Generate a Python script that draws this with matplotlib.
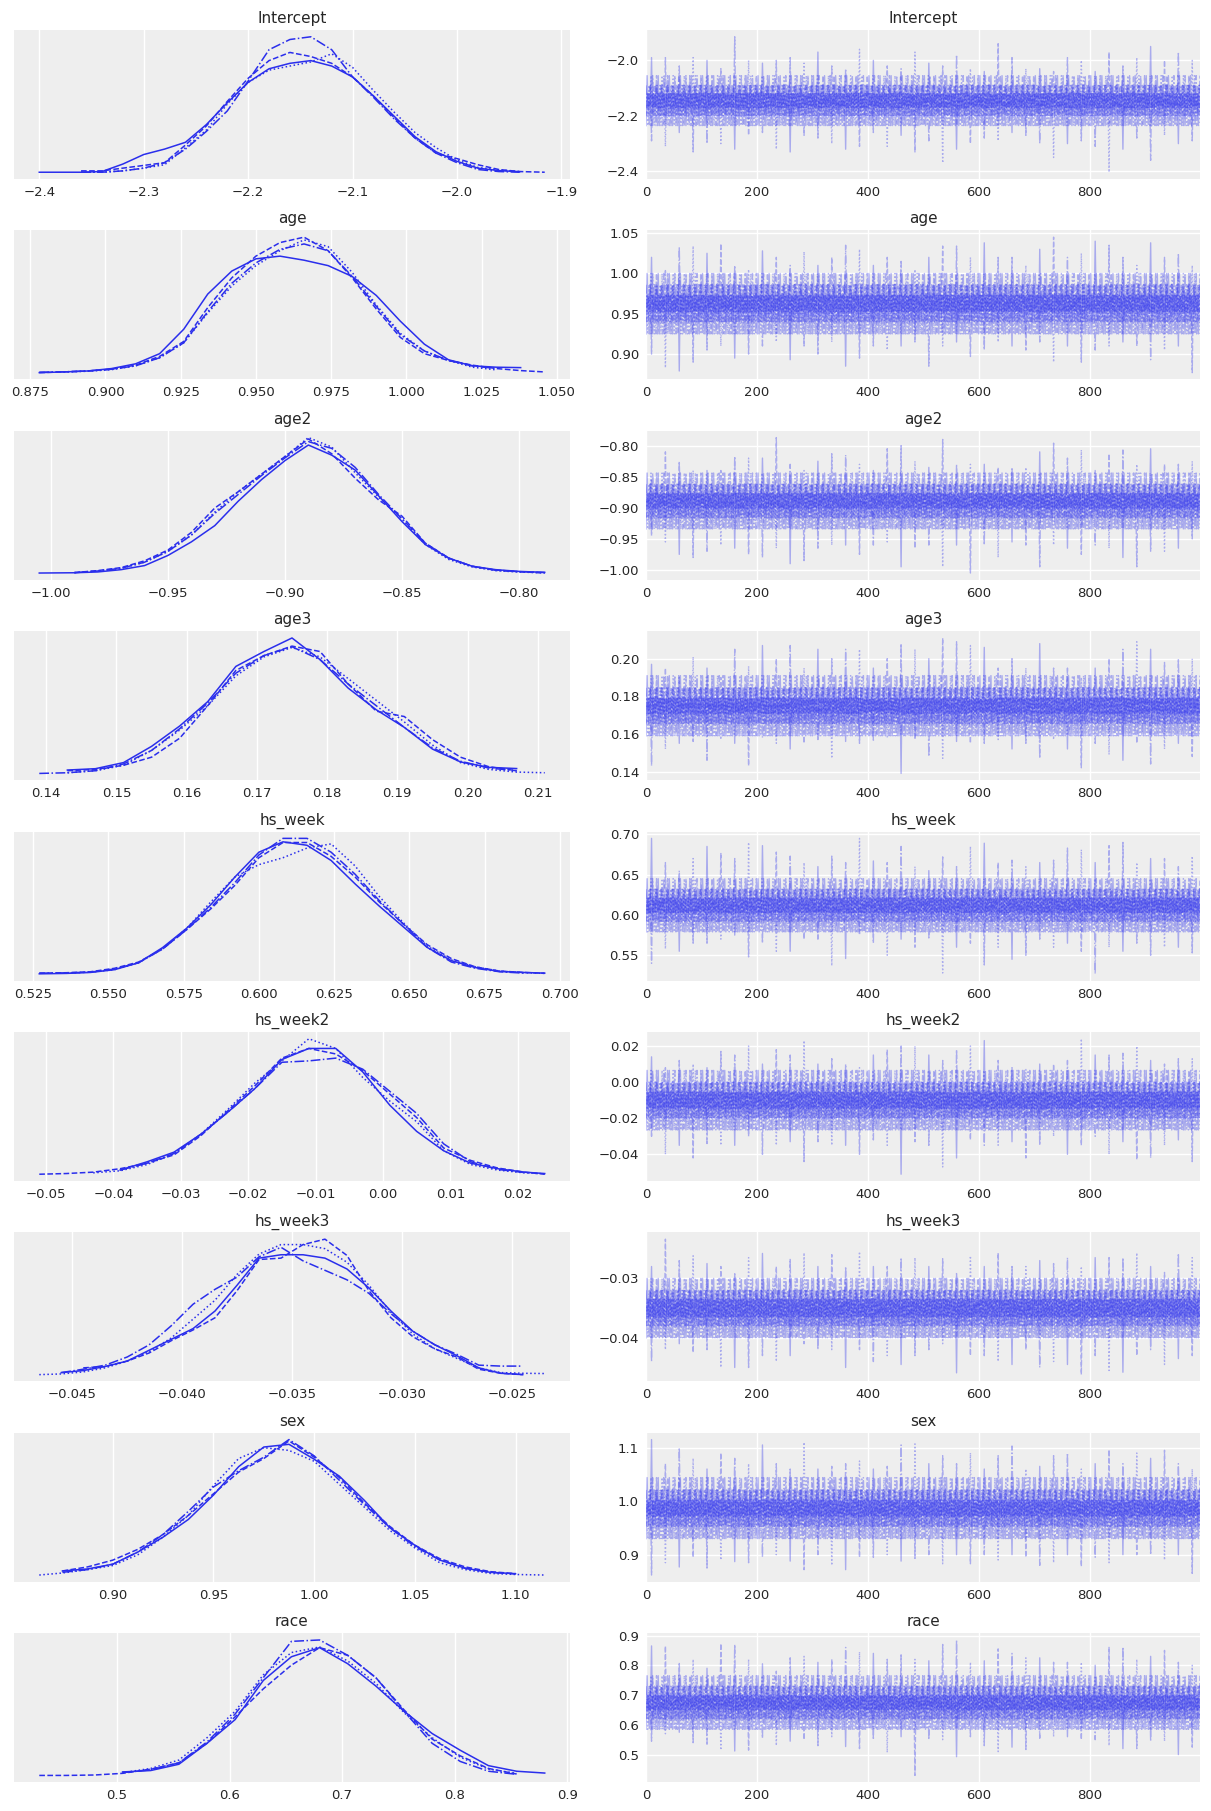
import numpy as np
import matplotlib
matplotlib.use("Agg")
import matplotlib.pyplot as plt
from matplotlib.ticker import MultipleLocator

nan = np.nan

# ---------------------------------------------------------------------------
# Variables, chain line styles
# ---------------------------------------------------------------------------
var_names = ["Intercept", "age", "age2", "age3", "hs_week", "hs_week2",
             "hs_week3", "sex", "race"]
chain_styles = ["-", "--", "-.", ":"]
n_draws = 1000
bin_width = 25

# ---------------------------------------------------------------------------
# KDE curves (relative height, one list per chain)
# ---------------------------------------------------------------------------
intercept_kde_x = [-2.40, -2.38, -2.36, -2.34, -2.32, -2.30, -2.28, -2.26, -2.24, -2.22,
                   -2.20, -2.18, -2.16, -2.14, -2.12, -2.10, -2.08, -2.06, -2.04, -2.02,
                   -2.00, -1.98, -1.96, -1.94, -1.916]
intercept_kde = [
    [0.0, 0.0, 0.0, 0.005, 0.06, 0.13, 0.17, 0.22, 0.35, 0.51, 0.66, 0.76, 0.80, 0.82, 0.78,
     0.70, 0.56, 0.41, 0.26, 0.15, 0.08, 0.03, 0.012, 0.004, nan],
    [nan, nan, 0.01, 0.01, 0.03, 0.05, 0.07, 0.20, 0.34, 0.52, 0.69, 0.82, 0.88, 0.85, 0.80,
     0.70, 0.56, 0.40, 0.25, 0.14, 0.10, 0.055, 0.02, 0.005, 0.0],
    [nan, nan, 0.0, 0.0, 0.01, 0.03, 0.07, 0.17, 0.30, 0.45, 0.67, 0.90, 0.975, 0.995, 0.90,
     0.70, 0.55, 0.39, 0.25, 0.14, 0.07, 0.02, 0.005, 0.0, nan],
    [nan, nan, 0.0, 0.0, 0.01, 0.03, 0.055, 0.18, 0.31, 0.50, 0.66, 0.75, 0.78, 0.81, 0.87,
     0.77, 0.60, 0.44, 0.29, 0.18, 0.09, 0.035, 0.017, 0.004, nan],
]

age_kde_x = [0.878, 0.886, 0.894, 0.902, 0.910, 0.918, 0.926, 0.934, 0.942, 0.950, 0.958,
             0.966, 0.974, 0.982, 0.990, 0.998, 1.006, 1.014, 1.022, 1.030, 1.038, 1.046]
age_kde = [
    [0.0, 0.005, 0.012, 0.03, 0.065, 0.14, 0.32, 0.58, 0.75, 0.84, 0.86, 0.83, 0.79, 0.71,
     0.57, 0.38, 0.21, 0.095, 0.05, 0.04, 0.037, nan],
    [0.0, 0.005, 0.012, 0.025, 0.055, 0.12, 0.23, 0.48, 0.70, 0.86, 0.96, 1.0, 0.90, 0.70,
     0.47, 0.26, 0.14, 0.09, 0.055, 0.03, 0.015, 0.005],
    [0.003, 0.006, 0.012, 0.025, 0.05, 0.11, 0.22, 0.45, 0.66, 0.81, 0.91, 0.95, 0.90, 0.71,
     0.49, 0.28, 0.16, 0.09, 0.05, 0.03, nan, nan],
    [nan, 0.005, 0.01, 0.022, 0.05, 0.11, 0.22, 0.44, 0.64, 0.79, 0.90, 0.98, 0.93, 0.74,
     0.50, 0.29, 0.16, 0.09, 0.04, 0.02, nan, nan],
]

age2_kde_x = [-1.005, -0.99, -0.98, -0.97, -0.96, -0.95, -0.94, -0.93, -0.92, -0.91, -0.90,
              -0.89, -0.88, -0.87, -0.86, -0.85, -0.84, -0.83, -0.82, -0.81, -0.80, -0.789]
age2_kde = [
    [0.0, 0.002, 0.008, 0.025, 0.055, 0.13, 0.23, 0.35, 0.53, 0.69, 0.83, 0.945, 0.87, 0.76,
     0.57, 0.38, 0.21, 0.11, 0.05, 0.025, 0.012, 0.005],
    [nan, 0.003, 0.018, 0.04, 0.09, 0.17, 0.30, 0.48, 0.60, 0.73, 0.86, 0.99, 0.88, 0.70,
     0.54, 0.42, 0.22, 0.11, 0.05, 0.022, 0.01, 0.0],
    [nan, 0.003, 0.015, 0.035, 0.08, 0.16, 0.28, 0.44, 0.58, 0.72, 0.85, 0.97, 0.92, 0.78,
     0.58, 0.40, 0.22, 0.11, 0.05, 0.02, 0.01, 0.004],
    [nan, 0.003, 0.014, 0.035, 0.08, 0.16, 0.28, 0.45, 0.60, 0.73, 0.86, 1.0, 0.93, 0.74,
     0.56, 0.40, 0.21, 0.10, 0.045, 0.018, 0.007, 0.002],
]

age3_kde_x = [0.139, 0.143, 0.147, 0.151, 0.155, 0.159, 0.163, 0.167, 0.171, 0.175, 0.179,
              0.183, 0.187, 0.191, 0.195, 0.199, 0.203, 0.207, 0.211]
age3_kde = [
    [nan, 0.025, 0.035, 0.08, 0.20, 0.35, 0.53, 0.79, 0.90, 1.0, 0.84, 0.63, 0.47, 0.34, 0.18,
     0.085, 0.045, 0.036, nan],
    [nan, 0.02, 0.03, 0.06, 0.12, 0.26, 0.50, 0.76, 0.87, 0.94, 0.90, 0.66, 0.46, 0.42, 0.25,
     0.12, 0.05, 0.02, nan],
    [0.0, 0.005, 0.02, 0.07, 0.17, 0.33, 0.52, 0.74, 0.87, 0.935, 0.84, 0.66, 0.50, 0.34, 0.19,
     0.09, 0.04, 0.02, nan],
    [nan, 0.005, 0.02, 0.06, 0.17, 0.32, 0.50, 0.72, 0.86, 0.93, 0.86, 0.70, 0.54, 0.38, 0.21,
     0.08, 0.03, 0.01, 0.005],
]

hs_week_kde_x = [0.527, 0.536, 0.544, 0.552, 0.560, 0.568, 0.576, 0.584, 0.592, 0.600, 0.608,
                 0.616, 0.624, 0.632, 0.640, 0.648, 0.656, 0.664, 0.672, 0.680, 0.688, 0.695]
hs_week_kde = [
    [0.0, 0.003, 0.01, 0.03, 0.08, 0.19, 0.33, 0.50, 0.70, 0.88, 0.955, 0.93, 0.82, 0.65,
     0.49, 0.34, 0.19, 0.095, 0.045, 0.017, 0.01, 0.005],
    [0.005, 0.008, 0.015, 0.04, 0.085, 0.18, 0.32, 0.47, 0.64, 0.84, 0.95, 0.95, 0.85, 0.70,
     0.52, 0.36, 0.21, 0.11, 0.05, 0.02, 0.01, 0.004],
    [0.005, 0.007, 0.012, 0.035, 0.08, 0.18, 0.32, 0.48, 0.66, 0.86, 0.98, 0.98, 0.88, 0.72,
     0.53, 0.36, 0.19, 0.085, 0.04, 0.015, 0.005, nan],
    [nan, 0.005, 0.012, 0.03, 0.08, 0.18, 0.33, 0.52, 0.70, 0.79, 0.84, 0.91, 0.94, 0.78,
     0.56, 0.37, 0.20, 0.10, 0.05, 0.02, 0.008, 0.003],
]

hs_week2_kde_x = [-0.051, -0.047, -0.043, -0.039, -0.035, -0.031, -0.027, -0.023, -0.019,
                  -0.015, -0.011, -0.007, -0.003, 0.001, 0.005, 0.009, 0.013, 0.017, 0.021, 0.024]
hs_week2_kde = [
    [nan, nan, nan, 0.03, 0.09, 0.16, 0.29, 0.45, 0.62, 0.83, 0.91, 0.91, 0.74, 0.50, 0.31,
     0.17, 0.08, 0.04, 0.015, 0.005],
    [0.0, 0.005, 0.015, 0.04, 0.08, 0.14, 0.28, 0.46, 0.64, 0.84, 0.91, 0.87, 0.75, 0.58,
     0.41, 0.19, 0.10, 0.045, 0.015, 0.0],
    [nan, nan, nan, 0.03, 0.08, 0.15, 0.29, 0.45, 0.62, 0.81, 0.82, 0.84, 0.76, 0.60, 0.44,
     0.22, 0.09, 0.035, 0.012, nan],
    [nan, nan, 0.01, 0.025, 0.07, 0.15, 0.29, 0.47, 0.66, 0.82, 0.98, 0.91, 0.70, 0.53, 0.38,
     0.17, 0.07, 0.03, 0.01, 0.003],
]

hs_week3_kde_x = [-0.0465, -0.0455, -0.0445, -0.0435, -0.0425, -0.0415, -0.0405, -0.0395,
                  -0.0385, -0.0375, -0.0365, -0.0355, -0.0345, -0.0335, -0.0325, -0.0315,
                  -0.0305, -0.0295, -0.0285, -0.0275, -0.0265, -0.0255, -0.0245, -0.0235]
hs_week3_kde = [
    [nan, 0.015, 0.03, 0.06, 0.10, 0.18, 0.26, 0.34, 0.47, 0.66, 0.86, 0.885, 0.885, 0.86,
     0.78, 0.64, 0.47, 0.32, 0.22, 0.14, 0.05, 0.01, 0.0, nan],
    [nan, nan, 0.05, 0.06, 0.10, 0.16, 0.25, 0.33, 0.42, 0.62, 0.85, 0.86, 0.96, 1.0,
     0.88, 0.62, 0.42, 0.28, 0.19, 0.13, 0.04, 0.01, 0.0, nan],
    [nan, 0.015, 0.04, 0.07, 0.13, 0.22, 0.36, 0.52, 0.63, 0.72, 0.87, 0.94, 0.84, 0.77,
     0.70, 0.60, 0.45, 0.32, 0.22, 0.15, 0.07, 0.063, 0.063, nan],
    [0.0, 0.005, 0.02, 0.05, 0.10, 0.17, 0.27, 0.41, 0.55, 0.74, 0.89, 0.96, 0.96, 0.93,
     0.83, 0.66, 0.46, 0.30, 0.19, 0.12, 0.05, 0.015, 0.01, 0.008],
]

sex_kde_x = [0.8635, 0.875, 0.8875, 0.90, 0.9125, 0.925, 0.9375, 0.95, 0.9625, 0.975, 0.9875,
             1.0, 1.0125, 1.025, 1.0375, 1.05, 1.0625, 1.075, 1.0875, 1.10, 1.1145]
sex_kde = [
    [nan, 0.03, 0.045, 0.08, 0.17, 0.28, 0.41, 0.59, 0.80, 0.945, 0.965, 0.855, 0.73, 0.55,
     0.35, 0.22, 0.11, 0.05, 0.02, 0.01, nan],
    [nan, 0.03, 0.06, 0.11, 0.19, 0.30, 0.44, 0.60, 0.76, 0.86, 0.99, 0.87, 0.72, 0.53,
     0.36, 0.22, 0.12, 0.06, 0.025, 0.01, nan],
    [nan, 0.02, 0.04, 0.08, 0.17, 0.30, 0.47, 0.65, 0.77, 0.87, 1.0, 0.88, 0.70, 0.52,
     0.35, 0.21, 0.11, 0.05, 0.02, 0.008, nan],
    [0.0, 0.015, 0.04, 0.07, 0.15, 0.28, 0.44, 0.66, 0.86, 0.94, 0.92, 0.84, 0.67, 0.50,
     0.33, 0.20, 0.09, 0.04, 0.012, 0.004, 0.0],
]

race_kde_x = [0.431, 0.455, 0.48, 0.505, 0.53, 0.555, 0.58, 0.605, 0.63, 0.655, 0.68, 0.705,
              0.73, 0.755, 0.78, 0.805, 0.83, 0.855, 0.880]
race_kde = [
    [nan, nan, nan, 0.025, 0.035, 0.08, 0.23, 0.40, 0.68, 0.85, 0.915, 0.80, 0.64, 0.46,
     0.30, 0.18, 0.07, 0.03, 0.017],
    [0.0, 0.0, 0.003, 0.015, 0.045, 0.09, 0.23, 0.42, 0.62, 0.79, 0.915, 0.86, 0.70, 0.47,
     0.26, 0.14, 0.05, 0.01, nan],
    [nan, nan, nan, 0.02, 0.04, 0.09, 0.24, 0.44, 0.70, 0.96, 0.97, 0.86, 0.70, 0.46,
     0.23, 0.10, 0.03, 0.008, nan],
    [nan, nan, nan, 0.02, 0.05, 0.11, 0.27, 0.46, 0.72, 0.88, 0.92, 0.82, 0.66, 0.45,
     0.27, 0.13, 0.045, 0.015, nan],
]

# ---------------------------------------------------------------------------
# Traces: highest / lowest value seen in each block of 25 draws,
# plus three lower and three upper levels of the dense band
# ---------------------------------------------------------------------------
intercept_hi = [-1.99, -1.99, -2.02, -1.99, -2.00, -2.03, -1.915, -2.00, -2.01, -2.00,
                -1.99, -2.01, -1.97, -2.02, -2.03, -1.96, -2.00, -2.02, -2.03, -1.97,
                -2.01, -2.02, -1.98, -2.03, -2.04, -1.94, -1.99, -2.03, -2.03, -2.04,
                -1.99, -2.00, -2.04, -1.97, -2.02, -1.99, -1.95, -2.00, -1.97, -2.00]
intercept_lo = [-2.29, -2.31, -2.26, -2.33, -2.30, -2.30, -2.32, -2.27, -2.26, -2.32,
                -2.33, -2.27, -2.28, -2.30, -2.32, -2.31, -2.26, -2.31, -2.27, -2.33,
                -2.29, -2.37, -2.32, -2.30, -2.28, -2.29, -2.26, -2.27, -2.30, -2.35,
                -2.30, -2.29, -2.31, -2.403, -2.32, -2.28, -2.36, -2.27, -2.30, -2.29]
intercept_lows = [-2.235, -2.20, -2.17]
intercept_highs = [-2.12, -2.09, -2.055]

age_hi = [1.02, 1.005, 1.033, 1.034, 1.025, 1.037, 1.01, 1.005, 1.028, 1.02,
          1.01, 1.027, 1.01, 1.02, 1.035, 1.03, 1.01, 1.02, 1.015, 1.005,
          1.02, 1.034, 1.034, 1.02, 1.038, 1.02, 1.02, 1.01, 1.03, 1.045,
          1.02, 1.025, 1.04, 1.035, 1.02, 1.01, 1.038, 1.02, 1.025, 1.01]
age_lo = [0.90, 0.883, 0.879, 0.89, 0.905, 0.91, 0.895, 0.90, 0.91, 0.915,
          0.893, 0.91, 0.90, 0.915, 0.885, 0.895, 0.91, 0.905, 0.91, 0.915,
          0.885, 0.91, 0.915, 0.897, 0.905, 0.915, 0.91, 0.905, 0.915, 0.89,
          0.91, 0.89, 0.905, 0.91, 0.915, 0.91, 0.893, 0.905, 0.91, 0.877]
age_lows = [0.925, 0.94, 0.953]
age_highs = [0.973, 0.986, 1.0]

age2_hi = [-0.855, -0.81, -0.825, -0.84, -0.84, -0.84, -0.817, -0.82, -0.82, -0.787,
           -0.83, -0.84, -0.825, -0.813, -0.815, -0.83, -0.84, -0.805, -0.80, -0.825,
           -0.835, -0.79, -0.83, -0.83, -0.83, -0.835, -0.835, -0.835, -0.81, -0.796,
           -0.82, -0.807, -0.84, -0.813, -0.807, -0.83, -0.805, -0.83, -0.83, -0.825]
age2_lo = [-0.945, -0.955, -0.975, -0.98, -0.97, -0.96, -0.965, -0.975, -0.98, -0.965,
           -0.99, -0.985, -0.965, -0.96, -0.96, -0.975, -0.96, -0.955, -0.995, -0.965,
           -0.96, -0.995, -0.96, -1.005, -0.96, -0.98, -0.955, -0.96, -0.995, -0.96,
           -0.965, -0.975, -0.96, -0.965, -0.98, -0.995, -0.97, -0.97, -0.965, -0.95]
age2_lows = [-0.934, -0.916, -0.901]
age2_highs = [-0.877, -0.862, -0.844]

age3_hi = [0.197, 0.195, 0.19, 0.201, 0.195, 0.19, 0.205, 0.196, 0.207, 0.2,
           0.207, 0.195, 0.205, 0.2, 0.205, 0.205, 0.195, 0.2, 0.208, 0.205,
           0.2, 0.211, 0.209, 0.207, 0.206, 0.195, 0.2, 0.195, 0.208, 0.195,
           0.195, 0.19, 0.195, 0.2, 0.205, 0.209, 0.205, 0.198, 0.2, 0.2]
age3_lo = [0.143, 0.152, 0.155, 0.156, 0.146, 0.157, 0.155, 0.143, 0.158, 0.155,
           0.152, 0.155, 0.157, 0.147, 0.156, 0.155, 0.156, 0.158, 0.139, 0.157,
           0.148, 0.147, 0.156, 0.155, 0.155, 0.157, 0.152, 0.155, 0.147, 0.157,
           0.152, 0.142, 0.155, 0.149, 0.146, 0.155, 0.144, 0.152, 0.155, 0.148]
age3_lows = [0.159, 0.1655, 0.171]
age3_highs = [0.179, 0.1845, 0.191]

hs_week_hi = [0.695, 0.665, 0.655, 0.67, 0.685, 0.677, 0.67, 0.69, 0.686, 0.678,
              0.673, 0.665, 0.66, 0.673, 0.665, 0.695, 0.667, 0.665, 0.685, 0.66,
              0.655, 0.672, 0.66, 0.685, 0.689, 0.665, 0.668, 0.66, 0.665, 0.668,
              0.683, 0.681, 0.665, 0.686, 0.69, 0.665, 0.67, 0.67, 0.66, 0.673]
hs_week_lo = [0.54, 0.558, 0.555, 0.565, 0.565, 0.57, 0.575, 0.548, 0.565, 0.555,
              0.555, 0.57, 0.57, 0.537, 0.546, 0.575, 0.565, 0.55, 0.57, 0.56,
              0.57, 0.528, 0.56, 0.565, 0.538, 0.56, 0.545, 0.55, 0.57, 0.56,
              0.565, 0.555, 0.527, 0.56, 0.555, 0.565, 0.55, 0.56, 0.56, 0.553]
hs_week_lows = [0.579, 0.592, 0.603]
hs_week_highs = [0.621, 0.632, 0.645]

hs_week2_hi = [0.014, 0.008, 0.012, 0.01, 0.008, 0.017, 0.015, 0.02, 0.01, 0.018,
               0.015, 0.023, 0.01, 0.013, 0.01, 0.008, 0.015, 0.018, 0.02, 0.02,
               0.015, 0.012, 0.018, 0.02, 0.023, 0.012, 0.008, 0.007, 0.01, 0.01,
               0.012, 0.024, 0.015, 0.015, 0.016, 0.02, 0.012, 0.01, 0.013, 0.013]
hs_week2_lo = [-0.03, -0.04, -0.035, -0.042, -0.034, -0.035, -0.035, -0.03, -0.04, -0.035,
               -0.033, -0.044, -0.033, -0.035, -0.035, -0.04, -0.032, -0.035, -0.051, -0.033,
               -0.035, -0.047, -0.042, -0.032, -0.035, -0.035, -0.033, -0.042, -0.035, -0.03,
               -0.04, -0.035, -0.03, -0.04, -0.033, -0.043, -0.042, -0.035, -0.032, -0.044]
hs_week2_lows = [-0.0265, -0.020, -0.0145]
hs_week2_highs = [-0.0055, 0.000, 0.0065]

hs_week3_hi = [-0.028, -0.0234, -0.027, -0.0262, -0.0275, -0.028, -0.029, -0.0265, -0.0258, -0.028,
               -0.0267, -0.0257, -0.028, -0.026, -0.028, -0.0255, -0.028, -0.028, -0.0265, -0.0265,
               -0.028, -0.0267, -0.029, -0.0262, -0.028, -0.0257, -0.028, -0.028, -0.027, -0.0275,
               -0.0265, -0.028, -0.0265, -0.0265, -0.0265, -0.0257, -0.028, -0.029, -0.0258, -0.0265]
hs_week3_lo = [-0.044, -0.042, -0.041, -0.0425, -0.042, -0.045, -0.045, -0.045, -0.043, -0.044,
               -0.043, -0.041, -0.042, -0.042, -0.045, -0.042, -0.044, -0.043, -0.0445, -0.043,
               -0.042, -0.041, -0.0459, -0.043, -0.043, -0.044, -0.0445, -0.042, -0.045, -0.044,
               -0.0445, -0.0462, -0.043, -0.0455, -0.0458, -0.043, -0.042, -0.0445, -0.0435, -0.043]
hs_week3_lows = [-0.040, -0.038, -0.0365]
hs_week3_highs = [-0.0335, -0.032, -0.030]

sex_hi = [1.115, 1.07, 1.1, 1.08, 1.06, 1.09, 1.08, 1.07, 1.105, 1.07,
          1.06, 1.11, 1.06, 1.065, 1.07, 1.075, 1.06, 1.065, 1.105, 1.107,
          1.07, 1.085, 1.07, 1.09, 1.06, 1.085, 1.103, 1.06, 1.065, 1.085,
          1.09, 1.06, 1.07, 1.096, 1.07, 1.09, 1.08, 1.095, 1.07, 1.06]
sex_lo = [0.862, 0.885, 0.877, 0.895, 0.875, 0.89, 0.887, 0.885, 0.895, 0.90,
          0.888, 0.872, 0.90, 0.88, 0.872, 0.895, 0.895, 0.90, 0.888, 0.893,
          0.90, 0.883, 0.90, 0.883, 0.90, 0.89, 0.90, 0.895, 0.88, 0.885,
          0.90, 0.878, 0.895, 0.885, 0.90, 0.90, 0.90, 0.89, 0.90, 0.865]
sex_lows = [0.93, 0.953, 0.972]
sex_highs = [1.002, 1.021, 1.044]

race_hi = [0.865, 0.865, 0.81, 0.82, 0.79, 0.873, 0.87, 0.82, 0.805, 0.78,
           0.825, 0.83, 0.81, 0.82, 0.86, 0.845, 0.84, 0.82, 0.835, 0.82,
           0.815, 0.87, 0.885, 0.81, 0.815, 0.855, 0.84, 0.825, 0.825, 0.81,
           0.81, 0.81, 0.80, 0.862, 0.862, 0.82, 0.83, 0.85, 0.81, 0.80]
race_lo = [0.545, 0.57, 0.575, 0.54, 0.535, 0.515, 0.512, 0.515, 0.555, 0.53,
           0.545, 0.55, 0.53, 0.56, 0.527, 0.52, 0.55, 0.507, 0.56, 0.43,
           0.55, 0.55, 0.493, 0.56, 0.53, 0.51, 0.525, 0.517, 0.555, 0.56,
           0.56, 0.55, 0.55, 0.53, 0.52, 0.52, 0.545, 0.545, 0.50, 0.525]
race_lows = [0.585, 0.62, 0.651]
race_highs = [0.699, 0.73, 0.765]

# tick spacing of each row: (left KDE x axis, right trace y axis)
tick_steps = [(0.1, 0.2), (0.025, 0.05), (0.05, 0.05), (0.01, 0.02), (0.025, 0.05),
              (0.01, 0.02), (0.005, 0.01), (0.05, 0.1), (0.1, 0.1)]

kde_x = [intercept_kde_x, age_kde_x, age2_kde_x, age3_kde_x, hs_week_kde_x,
         hs_week2_kde_x, hs_week3_kde_x, sex_kde_x, race_kde_x]
kde_y = [intercept_kde, age_kde, age2_kde, age3_kde, hs_week_kde,
         hs_week2_kde, hs_week3_kde, sex_kde, race_kde]
trace_hi = [intercept_hi, age_hi, age2_hi, age3_hi, hs_week_hi,
            hs_week2_hi, hs_week3_hi, sex_hi, race_hi]
trace_lo = [intercept_lo, age_lo, age2_lo, age3_lo, hs_week_lo,
            hs_week2_lo, hs_week3_lo, sex_lo, race_lo]
band_lows = [intercept_lows, age_lows, age2_lows, age3_lows, hs_week_lows,
             hs_week2_lows, hs_week3_lows, sex_lows, race_lows]
band_highs = [intercept_highs, age_highs, age2_highs, age3_highs, hs_week_highs,
              hs_week2_highs, hs_week3_highs, sex_highs, race_highs]

# order in which a chain visits the upper band levels (index into *_highs)
high_cycle = [2, 0, 1, 0, 1]

# ---------------------------------------------------------------------------
# Style (arviz-darkgrid look)
# ---------------------------------------------------------------------------
LINE = "#2a2eec"
plt.rcParams.update({
    "font.family": ["DejaVu Sans"],
    "axes.facecolor": "#eeeeee",
    "axes.grid": True,
    "grid.color": "white",
    "grid.linewidth": 1.0,
    "xtick.major.size": 0,
    "ytick.major.size": 0,
    "xtick.major.pad": 5,
    "ytick.major.pad": 5,
    "xtick.labelsize": 9.5,
    "ytick.labelsize": 9.5,
    "xtick.color": "0.15",
    "ytick.color": "0.15",
    "text.color": "0.15",
    "axes.titlesize": 11,
    "axes.titlepad": 5,
})


def chain_path(hi, lo, lows, highs, c):
    # one chain zig-zags through the band levels; in every fourth block it
    # reaches that block's highest value, in another its lowest one
    xs, ys = [], []
    done_hi, done_lo = set(), set()
    for m in range(n_draws // 2):
        x = 2 * m + (c % 2)
        k = x // bin_width
        if (m + c // 2) % 2:
            v = highs[high_cycle[(m // 2 + c) % len(high_cycle)]]
            if k % 4 == c and k not in done_hi and x % bin_width >= 8:
                v = hi[k]
                done_hi.add(k)
        else:
            v = lows[(m // 2 + c) % len(lows)]
            if (k + 2) % 4 == c and k not in done_lo and x % bin_width >= 8:
                v = lo[k]
                done_lo.add(k)
        xs.append(x)
        ys.append(v)
    return xs, ys


W, H = 1211, 1811
fig = plt.figure(figsize=(W / 100, H / 100), dpi=100)

col_x = [14, 646]
col_w = [556, 554]
row_top0, row_pitch, row_h = 30, 200.4, 149

for i, name in enumerate(var_names):
    top = row_top0 + i * row_pitch
    ax_kde = fig.add_axes([col_x[0] / W, 1 - (top + row_h) / H, col_w[0] / W, row_h / H])
    ax_tr = fig.add_axes([col_x[1] / W, 1 - (top + row_h) / H, col_w[1] / W, row_h / H])

    # --- left: KDE per chain ---
    for c in range(4):
        ax_kde.plot(kde_x[i], kde_y[i][c], color=LINE, lw=1.1, ls=chain_styles[c],
                    solid_joinstyle="round")
    ax_kde.set_yticks([])
    ax_kde.xaxis.set_major_locator(MultipleLocator(tick_steps[i][0]))
    ax_kde.set_title(name)

    # --- right: trace per chain ---
    for c in range(4):
        xs, ys = chain_path(trace_hi[i], trace_lo[i], band_lows[i], band_highs[i], c)
        ax_tr.plot(xs, ys, color=LINE, lw=1.0, alpha=0.35, ls=chain_styles[c])
    ax_tr.set_xlim(0, n_draws - 1)
    ax_tr.xaxis.set_major_locator(MultipleLocator(200))
    ax_tr.yaxis.set_major_locator(MultipleLocator(tick_steps[i][1]))
    ax_tr.set_title(name)

    for ax in (ax_kde, ax_tr):
        for sp in ax.spines.values():
            sp.set_visible(False)
        ax.set_axisbelow(True)

fig.savefig("out.png", dpi=100)
plt.close(fig)
